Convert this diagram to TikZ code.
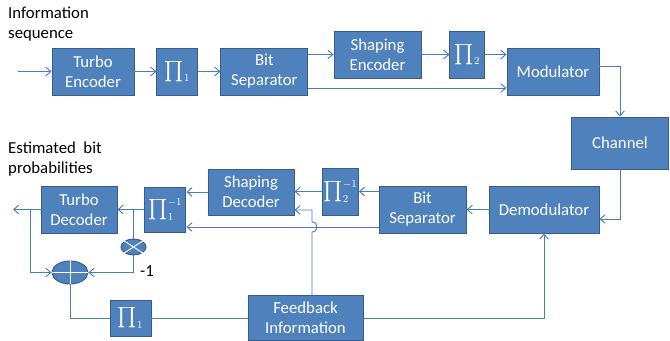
\documentclass[tikz,border=0pt]{standalone}
\usepackage{exscale}
\usepackage{fontspec}
\setmainfont{Carlito}
\usepackage{tikz}
\usetikzlibrary{arrows.meta, shapes.geometric, positioning}
\definecolor{blkfill}{HTML}{4F81BD}
\definecolor{blkedge}{HTML}{385D8A}
\definecolor{linecol}{HTML}{4A7EBB}
\newcommand{\permsym}[2]{$\prod_{\scriptscriptstyle #1}^{\scriptscriptstyle #2}$}

\begin{document}
\begin{tikzpicture}[x=0.03cm, y=-0.03cm, >={Straight Barb[length=1.5mm,width=2.6mm]}]
  \tikzset{
box/.style={draw=blkedge, fill=blkfill, text=white, line width=0.8pt,
    inner sep=1pt,
    minimum height=1.41cm,
    align=center, font=\fontsize{14.3}{17}\selectfont},
perm/.style={box, minimum width=1.23cm, font=\fontsize{18}{20}\selectfont},
joint/.style={ellipse, draw=blkedge, fill=blkfill, line width=0.8pt, inner sep=0pt},
wire/.style={draw=linecol, line width=0.8pt},
lbl/.style={align=left, inner sep=0pt, font=\fontsize{14.3}{17}\selectfont},
}
  \useasboundingbox (0,0) rectangle (670,341);

  % Nodes
  \node [box, minimum width=2.46cm] (te) at (93,71.5) {Turbo\\Encoder};
  \node [perm, right=22 of te] (p1) {\permsym{1}{}};
  \node [box, minimum width=2.61cm, right=22 of p1] (bs1) {Bit\\Separator};
  \node [box, minimum width=2.61cm] (se) at (377.5,54.5) {Shaping\\Encoder};
  \node [perm, minimum width=1.05cm, right=28 of se] (p2) {\permsym{2}{}};
  \node [box, minimum width=2.76cm] (mod) at (553,71.5) {Modulator};
  \node [box, minimum width=2.91cm, minimum height=1.56cm] (ch) at (620,143) {Channel};
  \node [box, minimum width=3.3cm] (dem) at (544,209.5) {Demodulator};
  \node [box, minimum width=2.61cm, left=22 of dem] (bs2) {Bit\\Separator};
  \node [perm, minimum width=1.05cm] (p2i) at (340.5,191.5) {\permsym{2}{-1}};
  \node [box, minimum width=2.58cm, minimum height=1.38cm] (sd) at (251,192) {Shaping\\Decoder};
  \node [box, minimum width=2.28cm] (td) at (79,209.5) {Turbo\\Decoder};
  \node [perm, minimum height=1.35cm, right=27 of td] (p1i) {\permsym{1}{-1}};
  \node [joint, minimum width=0.75cm, minimum height=0.48cm] (mult) at (133.5,247) {};
  \node [joint, minimum width=1.08cm, minimum height=0.69cm] (add) at (70,272.5) {};
  \node [perm, minimum height=1.08cm] (p1b) at (130.5,318) {\permsym{1}{}};
  \node [box, minimum width=3.45cm, minimum height=1.35cm] (fb) at (305.5,318) {Feedback\\Information};

  % Labels
  \node [lbl, anchor=north west] (insrc) at (8,7) {Information\\sequence};
  \node [lbl, anchor=north west] (estout) at (8,142) {Estimated~ bit\\probabilities};
  \node [lbl] (neg) at (147,271) {-1};

  \coordinate (src) at (18,71.5);
  \coordinate (sink) at (13,209.5);
  \coordinate (tap) at (30,209.5);
  \coordinate (hop) at (312,227);

  % marks inside the joints
  \draw [white, line width=0.8pt] (mult.north east) -- (mult.south west) (mult.north west) -- (mult.south east);
  \draw [white, line width=0.8pt] (add.north) -- (add.south) (add.west) -- (add.east);

  % Transmitter
  \draw [wire, ->] (src) -- (te);
  \draw [wire, ->] (te) -- (p1);
  \draw [wire, ->] (p1) -- (bs1);
  \draw [wire, ->] (bs1.east |- se.west) -- (se);
  \draw [wire, ->] (se) -- (p2);
  \draw [wire, ->] (p2) -- (p2.east -| mod.west);
  \draw [wire, ->] ([shift={(0,16.5)}]bs1.east) -- ([shift={(0,16.5)}]mod.west);
  \draw [wire, ->] ([shift={(0,-5.5)}]mod.east) -| (ch);
  \draw [wire, ->] (ch) |- ([shift={(0,9.5)}]dem.east);

  % Receiver
  \draw [wire, ->] (dem) -- (bs2);
  \draw [wire, ->] (bs2.west |- p2i.east) -- (p2i);
  \draw [wire, ->] (p2i.west) -- (p2i.west -| sd.east);
  \draw [wire, ->] (sd) -- (sd.west -| p1i.east);
  \draw [wire, ->] ([shift={(0,17.5)}]bs2.west) -- ([shift={(0,17.5)}]bs2.west -| p1i.east);
  \draw [wire, ->] (fb.north -| hop) -- ([shift={(0,5)}]hop)
    to[out=0,in=0,looseness=1.7] ([shift={(0,-5)}]hop) |- ([shift={(0,18)}]sd.east);
  \draw [wire, ->] (p1i) -- (td);
  \draw [wire] (mult.north |- td.east) -- (mult);
  \draw [wire, ->] (mult) |- (add);
  \draw [wire, ->] (td) -- (sink);
  \draw [wire, ->] (tap) |- (add);
  \draw [wire] (add) |- (p1b);
  \draw [wire] (p1b) -- (fb);
  \draw [wire, ->] (fb) -| (dem);
\end{tikzpicture}
\end{document}
